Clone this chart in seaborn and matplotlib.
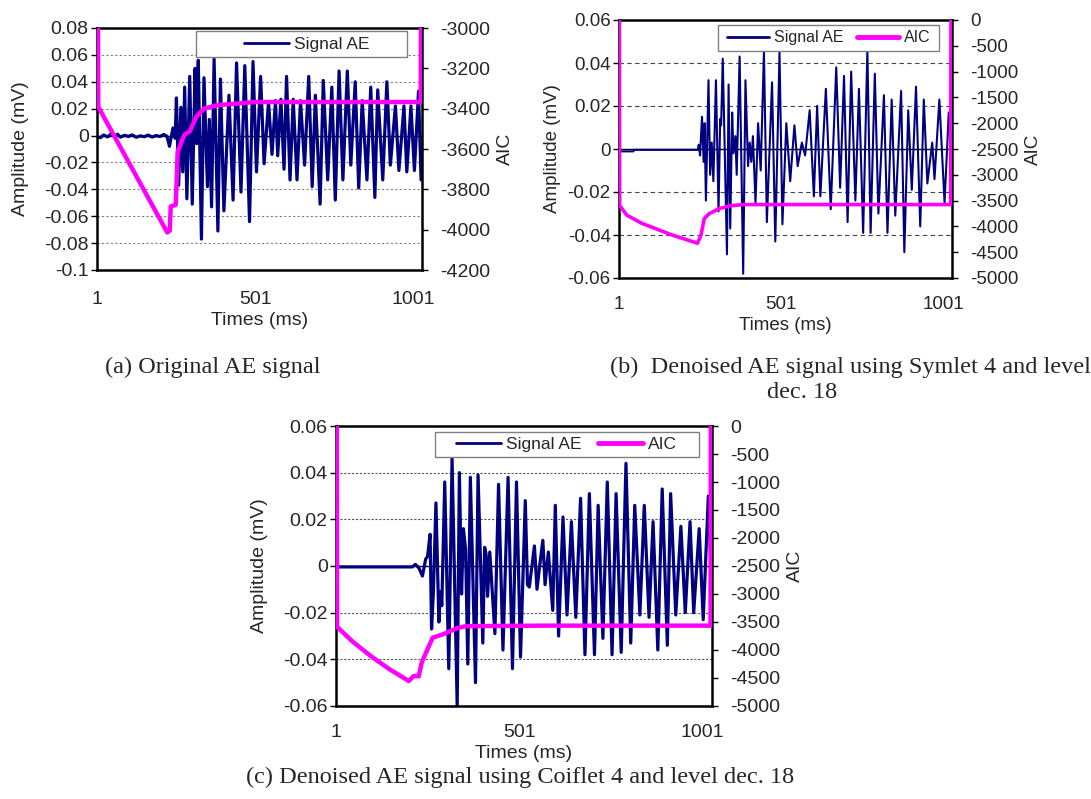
import matplotlib
matplotlib.use('Agg')
import matplotlib.pyplot as plt
import seaborn as sns
import pandas as pd
from matplotlib.patches import Rectangle
from matplotlib.lines import Line2D

# ---- panel (a): original AE signal (times, amplitude mV) ----
a_sig_t = [1, 12, 22, 35, 45, 58, 66, 75, 88, 100, 112, 125, 138, 150, 163, 175, 188, 200, 212, 222,
           230, 241, 248, 252, 259, 266, 272, 278, 285, 294, 302, 311, 316, 321, 331, 339, 350, 356,
           363, 371, 383, 391, 402, 418, 431, 442, 456, 468, 483, 494, 505, 518, 529, 543, 554, 565,
           572, 582, 592, 600, 611, 621, 633, 644, 657, 670, 681, 691, 706, 716, 730, 743, 754, 766,
           778, 792, 803, 817, 828, 839, 854, 866, 879, 888, 904, 917, 928, 944, 955, 971, 980, 993,
           1004, 1017, 1025]
a_sig_v = [-0.001, -0.0015, 0.0004, -0.001, 0.0012, -0.0008, 0.001, -0.0012, 0.0002, -0.0006, 0.0005,
           -0.0013, -0.0002, -0.0009, 0.0004, -0.0011, 0.0, -0.0007, 0.0008, -0.0005,
           -0.008, 0.0056, -0.002, 0.028, -0.037, 0.021, -0.027, 0.036, -0.047, 0.044, -0.051, 0.050,
           -0.006, 0.056, -0.077, 0.043, -0.038, 0.012, -0.053, 0.057, -0.071, 0.042, -0.056, 0.030,
           -0.048, 0.054, -0.042, 0.052, -0.064, 0.055, -0.027, 0.044, -0.021, 0.025, -0.014, 0.026,
           -0.015, 0.027, -0.025, 0.044, -0.033, 0.027, -0.033, 0.026, -0.022, 0.044, -0.038, 0.030,
           -0.051, 0.041, -0.033, 0.036, -0.048, 0.048, -0.033, 0.048, -0.022, 0.040, -0.039, 0.026,
           -0.033, 0.036, -0.046, 0.034, -0.033, 0.040, -0.022, 0.022, -0.026, 0.022, -0.027, 0.022,
           -0.026, 0.033, -0.033]
a_aic_t = [4, 5, 223, 231, 234, 250, 256, 261, 277, 294, 315, 339, 380, 500, 1024, 1025]
a_aic_v = [-2900, -3391, -4014, -4005, -3885, -3877, -3610, -3595, -3529, -3513, -3440, -3400,
           -3383, -3367, -3367, -2900]

# ---- panel (b): Symlet 4 denoised ----
b_sig_t = [1, 45, 48, 244, 247, 251, 257, 262, 265, 269, 277, 282, 287, 292, 300, 308, 313, 316, 321,
           334, 339, 344, 350, 354, 360, 364, 373, 384, 391, 399, 404, 409, 414, 422, 430, 438, 448,
           457, 473, 483, 496, 505, 517, 529, 542, 552, 565, 575, 589, 602, 612, 622, 639, 654, 671,
           683, 695, 706, 717, 730, 741, 754, 767, 777, 790, 801, 818, 829, 842, 853, 871, 881, 893,
           904, 917, 930, 941, 952, 967, 974, 989, 1005, 1018, 1025]
b_sig_v = [-0.0011, -0.0011, -0.0004, -0.0004, 0.002, -0.003, 0.015, -0.006, 0.012, -0.024, 0.032,
           -0.012, 0.003, -0.015, 0.032, -0.029, 0.014, 0.011, 0.042, -0.049, 0.030, -0.037, 0.017,
           -0.002, 0.006, -0.012, 0.043, -0.058, 0.032, -0.008, 0.003, -0.006, 0.006, -0.025, 0.012,
           -0.010, 0.045, -0.034, 0.031, -0.043, 0.045, -0.035, 0.012, -0.015, 0.011, -0.008, 0.003,
           -0.003, 0.018, -0.022, 0.020, -0.022, 0.028, -0.028, 0.038, -0.018, 0.034, -0.034, 0.036,
           -0.024, 0.028, -0.039, 0.046, -0.039, 0.035, -0.030, 0.025, -0.039, 0.023, -0.031, 0.027,
           -0.048, 0.018, -0.019, 0.029, -0.036, 0.023, -0.016, 0.003, -0.014, 0.023, -0.025, 0.017,
           0.005]
b_aic_t = [2, 3, 25, 72, 165, 243, 254, 264, 280, 311, 342, 384, 1024, 1025]
b_aic_v = [500, -3592, -3782, -3942, -4167, -4326, -4167, -3846, -3750, -3654, -3603, -3577,
           -3577, 500]

# ---- panel (c): Coiflet 4 denoised ----
c_sig_t = [1, 209, 218, 228, 237, 246, 251, 258, 262, 267, 274, 282, 286, 290, 298, 309, 318, 332,
           338, 344, 349, 355, 361, 368, 382, 389, 402, 407, 411, 415, 421, 435, 445, 457, 471, 483,
           494, 505, 518, 524, 529, 543, 550, 558, 566, 572, 581, 593, 600, 609, 621, 632, 644, 656,
           669, 681, 693, 707, 717, 730, 742, 755, 766, 780, 793, 806, 817, 831, 843, 856, 867, 880,
           892, 906, 915, 929, 943, 955, 968, 978, 993, 1004, 1018, 1025]
c_sig_v = [-0.0004, -0.0004, 0.0007, -0.001, -0.0043, 0.003, 0.004, 0.0136, -0.027, -0.011, 0.027,
           -0.024, -0.011, -0.017, 0.036, -0.044, 0.046, -0.060, 0.040, -0.012, 0.016, 0.007, -0.042,
           0.038, -0.050, 0.039, -0.033, 0.008, 0.005, -0.013, 0.006, -0.029, 0.035, -0.036, 0.038,
           -0.044, 0.036, -0.039, 0.028, -0.008, -0.009, 0.0086, -0.010, 0.001, 0.011, -0.008, 0.006,
           -0.019, 0.026, -0.030, 0.021, -0.021, 0.019, -0.022, 0.029, -0.038, 0.031, -0.038, 0.026,
           -0.031, 0.036, -0.038, 0.031, -0.037, 0.044, -0.033, 0.026, -0.021, 0.026, -0.022, 0.019,
           -0.036, 0.033, -0.034, 0.031, -0.021, 0.017, -0.020, 0.019, -0.020, 0.016, -0.023, 0.030,
           0.0]
c_aic_t = [3, 4, 45, 96, 148, 200, 213, 227, 235, 251, 265, 293, 335, 356, 563, 1024, 1025]
c_aic_v = [500, -3587, -3842, -4109, -4347, -4554, -4464, -4470, -4226, -3986, -3780, -3720,
           -3601, -3575, -3565, -3565, 500]

amp_ticks_a = [0.08, 0.06, 0.04, 0.02, 0, -0.02, -0.04, -0.06, -0.08, -0.1]
amp_ticks_bc = [0.06, 0.04, 0.02, 0, -0.02, -0.04, -0.06]
aic_ticks_a = [-3000, -3200, -3400, -3600, -3800, -4000, -4200]
aic_ticks_bc = [0, -500, -1000, -1500, -2000, -2500, -3000, -3500, -4000, -4500, -5000]
x_ticks = [1, 501, 1001]

sns.set_style('white')
plt.rcParams['font.family'] = ['Liberation Sans', 'DejaVu Sans']
plt.rcParams['axes.unicode_minus'] = False

NAVY = '#000080'
MAGENTA = '#ff00ff'
W, H = 1091, 799

fig = plt.figure(figsize=(W / 100, H / 100), dpi=100)
fig.patch.set_facecolor('white')


def panel(px, sig_t, sig_v, aic_t, aic_v, amp_ticks, aic_ticks, grid_style, grid_color,
          sig_lw, aic_lw, box, legend_cx, with_aic, fs=14, leg_fs=12.5, xpad=12, ylpad=8):
    left, right, top, bottom = px
    ax = fig.add_axes([left / W, 1 - bottom / H, (right - left) / W, (bottom - top) / H])
    ax2 = ax.twinx()

    sig = pd.DataFrame({'t': sig_t, 'v': sig_v})
    aic = pd.DataFrame({'t': aic_t, 'v': aic_v})
    sns.lineplot(data=sig, x='t', y='v', ax=ax, color=NAVY, lw=sig_lw,
                 estimator=None, sort=False, zorder=2)
    sns.lineplot(data=aic, x='t', y='v', ax=ax2, color=MAGENTA, lw=aic_lw,
                 estimator=None, sort=False, zorder=3)

    ax.set_xlim(1, 1028)
    ax.set_ylim(min(amp_ticks), max(amp_ticks))
    ax2.set_ylim(min(aic_ticks), max(aic_ticks))
    ax.set_xticks(x_ticks)
    ax.set_xticklabels([str(v) for v in x_ticks], fontsize=fs)
    ax.set_yticks(amp_ticks)
    ax.set_yticklabels([f'{v:g}' for v in amp_ticks], fontsize=fs)
    ax2.set_yticks(aic_ticks)
    ax2.set_yticklabels([str(v) for v in aic_ticks], fontsize=fs)

    ax.grid(True, axis='y', linestyle=grid_style, color=grid_color, lw=0.8)
    ax.grid(False, axis='x')
    ax.axhline(0, color='black', lw=1.0, zorder=1.5)

    ax.tick_params(axis='x', length=0, pad=xpad)
    ax.tick_params(axis='y', length=4, width=1, color='black', direction='out', pad=2, left=True)
    ax2.tick_params(axis='y', length=4, width=1, color='black', direction='out', pad=9, right=True)

    for s in ax.spines.values():
        s.set_color('black')
        s.set_linewidth(1.8)
    for s in ax2.spines.values():
        s.set_visible(False)

    ax.set_xlabel('Times (ms)', fontsize=fs, labelpad=3)
    ax.set_ylabel('Amplitude (mV)', fontsize=fs, labelpad=ylpad)
    ax2.set_ylabel('AIC', fontsize=fs, labelpad=5)

    # legend box
    x0, x1, y0, y1 = box
    ax2.add_patch(Rectangle((x0, y0), x1 - x0, y1 - y0, transform=ax2.transAxes,
                            facecolor='white', edgecolor='#808080', lw=1.0, zorder=6))
    handles = [Line2D([], [], color=NAVY, lw=2.0)]
    labels = ['Signal AE']
    if with_aic:
        handles.append(Line2D([], [], color=MAGENTA, lw=3.5))
        labels.append('AIC')
    leg = ax2.legend(handles, labels, loc='center', bbox_to_anchor=(legend_cx, (y0 + y1) / 2),
                     ncol=2, frameon=False, fontsize=leg_fs, handlelength=2.6, handletextpad=0.3,
                     columnspacing=0.9, borderaxespad=0)
    leg.set_zorder(7)
    return ax, ax2


# (a)
panel((97, 422, 28, 270), a_sig_t, a_sig_v, a_aic_t, a_aic_v, amp_ticks_a, aic_ticks_a,
      (0, (2, 2)), '#808080', 2.3, 3.2, (0.305, 0.955, 0.879, 0.986), 0.645, False,
      xpad=15, ylpad=11)
# (b)
panel((619, 952, 20, 278), b_sig_t, b_sig_v, b_aic_t, b_aic_v, amp_ticks_bc, aic_ticks_bc,
      (0, (4, 3)), '#444444', 1.5, 2.6, (0.297, 0.962, 0.881, 0.981), 0.63, True, fs=13.5,
      leg_fs=11.5, xpad=13, ylpad=5)
# (c)
panel((336, 712, 426, 706), c_sig_t, c_sig_v, c_aic_t, c_aic_v, amp_ticks_bc, aic_ticks_bc,
      (0, (2, 1.5)), '#555555', 2.3, 3.2, (0.262, 0.965, 0.891, 0.980), 0.613, True,
      xpad=13, ylpad=11)

serif = ['Liberation Serif', 'DejaVu Serif']
cap = 17.5
fig.text(105 / W, 1 - 367 / H, '(a) Original AE signal', family=serif, fontsize=cap,
         ha='left', va='center')
fig.text(610 / W, 1 - 367 / H, '(b)  Denoised AE signal using Symlet 4 and level', family=serif,
         fontsize=cap, ha='left', va='center')
fig.text(802 / W, 1 - 393 / H, 'dec. 18', family=serif, fontsize=cap, ha='center', va='center')
fig.text(520 / W, 1 - 777 / H, '(c) Denoised AE signal using Coiflet 4 and level dec. 18',
         family=serif, fontsize=cap, ha='center', va='center')

fig.savefig('out.png', dpi=100, facecolor='white')
